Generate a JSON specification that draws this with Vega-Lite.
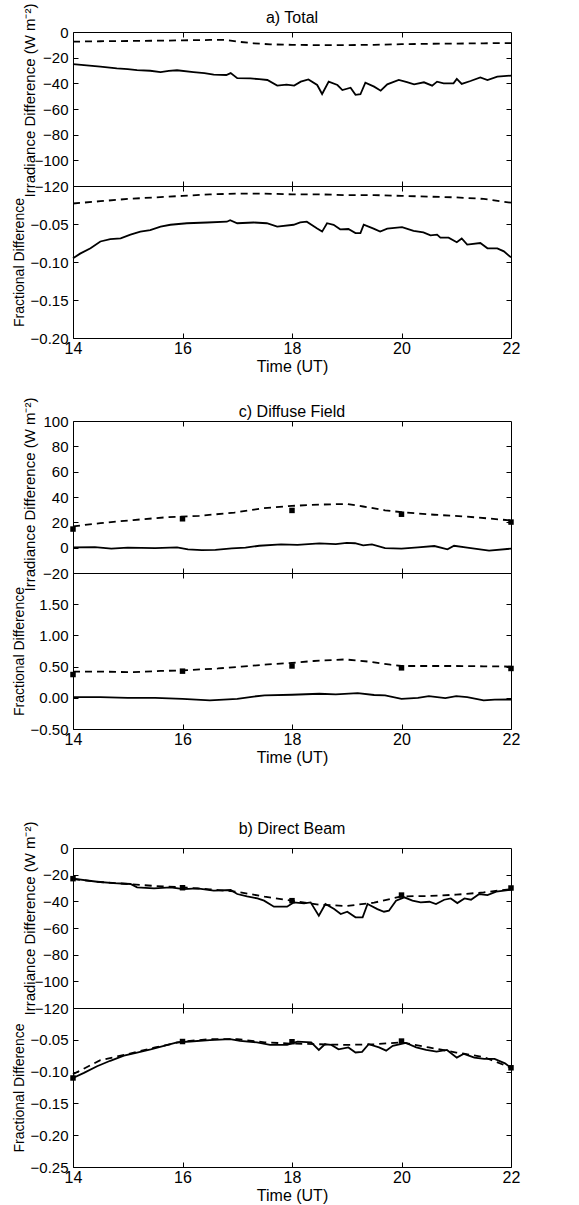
{
  "$schema": "https://vega.github.io/schema/vega-lite/v6.json",
  "background": "white",
  "padding": {"left": 11, "top": 2, "right": 5, "bottom": 0},
  "spacing": 21,
  "config": {
    "view": {"stroke": "black", "strokeWidth": 1},
    "font": "Liberation Sans",
    "axis": {"labelFont": "Liberation Sans", "labelFontSize": 15, "labelColor": "black", "titleFont": "Liberation Sans", "titleFontSize": 15, "titleFontWeight": "normal", "titleColor": "black", "domain": false, "grid": false, "ticks": true, "tickColor": "black", "tickSize": -5, "labelPadding": 7, "labelOverlap": false, "labelFlush": false},
    "axisLeft": {"labelPadding": 10},
    "axisBottom": {"labelFontSize": 16},
    "title": {"font": "Liberation Sans", "fontSize": 16, "fontWeight": "normal", "color": "black", "offset": 6, "frame": "group"}
  },
  "datasets": {
    "a_irr": [
      {"t":14.0,"v":-25.0,"s":"s"},{"t":14.25,"v":-26.0,"s":"s"},{"t":14.5,"v":-27.0,"s":"s"},{"t":14.8,"v":-28.4,"s":"s"},{"t":15.0,"v":-29.0,"s":"s"},{"t":15.17,"v":-29.7,"s":"s"},{"t":15.41,"v":-30.2,"s":"s"},{"t":15.6,"v":-31.3,"s":"s"},{"t":15.75,"v":-30.3,"s":"s"},{"t":15.9,"v":-29.8,"s":"s"},{"t":16.2,"v":-31.2,"s":"s"},{"t":16.4,"v":-32.0,"s":"s"},{"t":16.57,"v":-33.2,"s":"s"},{"t":16.8,"v":-33.5,"s":"s"},{"t":16.88,"v":-32.0,"s":"s"},{"t":17.0,"v":-36.0,"s":"s"},{"t":17.24,"v":-36.2,"s":"s"},{"t":17.4,"v":-36.8,"s":"s"},{"t":17.55,"v":-37.4,"s":"s"},{"t":17.73,"v":-41.8,"s":"s"},{"t":17.9,"v":-41.0,"s":"s"},{"t":18.04,"v":-41.8,"s":"s"},{"t":18.16,"v":-38.7,"s":"s"},{"t":18.3,"v":-37.0,"s":"s"},{"t":18.46,"v":-41.3,"s":"s"},{"t":18.55,"v":-48.3,"s":"s"},{"t":18.67,"v":-38.7,"s":"s"},{"t":18.83,"v":-41.3,"s":"s"},{"t":18.92,"v":-45.2,"s":"s"},{"t":19.07,"v":-43.4,"s":"s"},{"t":19.16,"v":-49.0,"s":"s"},{"t":19.25,"v":-48.5,"s":"s"},{"t":19.34,"v":-39.5,"s":"s"},{"t":19.5,"v":-42.6,"s":"s"},{"t":19.62,"v":-45.7,"s":"s"},{"t":19.74,"v":-40.8,"s":"s"},{"t":19.95,"v":-37.4,"s":"s"},{"t":20.1,"v":-39.0,"s":"s"},{"t":20.23,"v":-40.8,"s":"s"},{"t":20.41,"v":-39.2,"s":"s"},{"t":20.56,"v":-41.8,"s":"s"},{"t":20.65,"v":-38.7,"s":"s"},{"t":20.77,"v":-40.0,"s":"s"},{"t":20.95,"v":-40.0,"s":"s"},{"t":21.01,"v":-36.6,"s":"s"},{"t":21.1,"v":-40.5,"s":"s"},{"t":21.26,"v":-38.2,"s":"s"},{"t":21.44,"v":-35.4,"s":"s"},{"t":21.57,"v":-37.4,"s":"s"},{"t":21.75,"v":-34.8,"s":"s"},{"t":22.0,"v":-34.0,"s":"s"},
      {"t":14.0,"v":-7.5,"s":"d"},{"t":14.5,"v":-7.2,"s":"d"},{"t":15.0,"v":-7.0,"s":"d"},{"t":15.5,"v":-6.8,"s":"d"},{"t":16.0,"v":-6.5,"s":"d"},{"t":16.5,"v":-6.2,"s":"d"},{"t":16.8,"v":-6.2,"s":"d"},{"t":17.0,"v":-7.5,"s":"d"},{"t":17.3,"v":-8.8,"s":"d"},{"t":17.6,"v":-9.6,"s":"d"},{"t":18.0,"v":-10.0,"s":"d"},{"t":18.5,"v":-10.2,"s":"d"},{"t":19.0,"v":-10.2,"s":"d"},{"t":19.5,"v":-10.0,"s":"d"},{"t":20.0,"v":-9.5,"s":"d"},{"t":20.5,"v":-9.2,"s":"d"},{"t":21.0,"v":-9.0,"s":"d"},{"t":21.5,"v":-8.8,"s":"d"},{"t":22.0,"v":-8.6,"s":"d"}
    ],
    "a_frac": [
      {"t":14.0,"v":-0.095,"s":"s"},{"t":14.13,"v":-0.089,"s":"s"},{"t":14.32,"v":-0.082,"s":"s"},{"t":14.5,"v":-0.073,"s":"s"},{"t":14.68,"v":-0.070,"s":"s"},{"t":14.87,"v":-0.069,"s":"s"},{"t":15.05,"v":-0.064,"s":"s"},{"t":15.23,"v":-0.060,"s":"s"},{"t":15.41,"v":-0.058,"s":"s"},{"t":15.6,"v":-0.0535,"s":"s"},{"t":15.78,"v":-0.051,"s":"s"},{"t":16.08,"v":-0.049,"s":"s"},{"t":16.45,"v":-0.048,"s":"s"},{"t":16.81,"v":-0.047,"s":"s"},{"t":16.87,"v":-0.045,"s":"s"},{"t":17.0,"v":-0.049,"s":"s"},{"t":17.3,"v":-0.048,"s":"s"},{"t":17.54,"v":-0.049,"s":"s"},{"t":17.73,"v":-0.0535,"s":"s"},{"t":18.03,"v":-0.051,"s":"s"},{"t":18.15,"v":-0.048,"s":"s"},{"t":18.27,"v":-0.047,"s":"s"},{"t":18.46,"v":-0.056,"s":"s"},{"t":18.55,"v":-0.060,"s":"s"},{"t":18.64,"v":-0.049,"s":"s"},{"t":18.76,"v":-0.051,"s":"s"},{"t":18.88,"v":-0.057,"s":"s"},{"t":19.03,"v":-0.0566,"s":"s"},{"t":19.16,"v":-0.062,"s":"s"},{"t":19.25,"v":-0.062,"s":"s"},{"t":19.31,"v":-0.051,"s":"s"},{"t":19.49,"v":-0.056,"s":"s"},{"t":19.61,"v":-0.060,"s":"s"},{"t":19.74,"v":-0.056,"s":"s"},{"t":20.01,"v":-0.054,"s":"s"},{"t":20.22,"v":-0.059,"s":"s"},{"t":20.4,"v":-0.061,"s":"s"},{"t":20.53,"v":-0.065,"s":"s"},{"t":20.65,"v":-0.064,"s":"s"},{"t":20.71,"v":-0.068,"s":"s"},{"t":20.86,"v":-0.068,"s":"s"},{"t":21.01,"v":-0.074,"s":"s"},{"t":21.1,"v":-0.069,"s":"s"},{"t":21.2,"v":-0.077,"s":"s"},{"t":21.44,"v":-0.075,"s":"s"},{"t":21.57,"v":-0.082,"s":"s"},{"t":21.75,"v":-0.082,"s":"s"},{"t":21.87,"v":-0.086,"s":"s"},{"t":22.0,"v":-0.094,"s":"s"},
      {"t":14.0,"v":-0.023,"s":"d"},{"t":14.5,"v":-0.020,"s":"d"},{"t":15.0,"v":-0.017,"s":"d"},{"t":15.5,"v":-0.015,"s":"d"},{"t":16.0,"v":-0.013,"s":"d"},{"t":16.5,"v":-0.011,"s":"d"},{"t":17.0,"v":-0.010,"s":"d"},{"t":17.5,"v":-0.010,"s":"d"},{"t":18.0,"v":-0.011,"s":"d"},{"t":18.5,"v":-0.011,"s":"d"},{"t":19.0,"v":-0.012,"s":"d"},{"t":19.5,"v":-0.012,"s":"d"},{"t":20.0,"v":-0.013,"s":"d"},{"t":20.5,"v":-0.014,"s":"d"},{"t":21.0,"v":-0.015,"s":"d"},{"t":21.5,"v":-0.017,"s":"d"},{"t":22.0,"v":-0.022,"s":"d"}
    ],
    "c_irr": [
      {"t":14.0,"v":0.3,"s":"s"},{"t":14.4,"v":0.5,"s":"s"},{"t":14.7,"v":-0.8,"s":"s"},{"t":15.0,"v":0.0,"s":"s"},{"t":15.5,"v":-0.3,"s":"s"},{"t":15.9,"v":0.3,"s":"s"},{"t":16.1,"v":-1.3,"s":"s"},{"t":16.35,"v":-2.0,"s":"s"},{"t":16.6,"v":-1.8,"s":"s"},{"t":16.9,"v":-0.5,"s":"s"},{"t":17.15,"v":0.0,"s":"s"},{"t":17.4,"v":1.5,"s":"s"},{"t":17.8,"v":2.6,"s":"s"},{"t":18.1,"v":2.2,"s":"s"},{"t":18.5,"v":3.4,"s":"s"},{"t":18.8,"v":2.8,"s":"s"},{"t":19.0,"v":3.8,"s":"s"},{"t":19.15,"v":3.5,"s":"s"},{"t":19.3,"v":1.8,"s":"s"},{"t":19.46,"v":2.6,"s":"s"},{"t":19.7,"v":-0.3,"s":"s"},{"t":20.0,"v":-0.8,"s":"s"},{"t":20.3,"v":0.3,"s":"s"},{"t":20.6,"v":1.3,"s":"s"},{"t":20.84,"v":-1.3,"s":"s"},{"t":20.96,"v":1.5,"s":"s"},{"t":21.2,"v":0.0,"s":"s"},{"t":21.6,"v":-2.4,"s":"s"},{"t":22.0,"v":-0.8,"s":"s"},
      {"t":14.0,"v":16.8,"s":"d"},{"t":14.5,"v":19.4,"s":"d"},{"t":15.1,"v":21.8,"s":"d"},{"t":15.7,"v":24.0,"s":"d"},{"t":16.3,"v":25.1,"s":"d"},{"t":16.95,"v":27.7,"s":"d"},{"t":17.45,"v":31.0,"s":"d"},{"t":18.0,"v":33.0,"s":"d"},{"t":18.5,"v":34.0,"s":"d"},{"t":19.0,"v":34.5,"s":"d"},{"t":19.3,"v":32.5,"s":"d"},{"t":19.7,"v":29.5,"s":"d"},{"t":20.0,"v":28.0,"s":"d"},{"t":20.6,"v":26.0,"s":"d"},{"t":21.2,"v":24.5,"s":"d"},{"t":22.0,"v":21.5,"s":"d"},
      {"t":14.0,"v":14.7,"s":"m"},{"t":16.0,"v":22.8,"s":"m"},{"t":18.0,"v":29.4,"s":"m"},{"t":20.0,"v":26.4,"s":"m"},{"t":22.0,"v":20.2,"s":"m"}
    ],
    "c_frac": [
      {"t":14.0,"v":0.01,"s":"s"},{"t":14.5,"v":0.01,"s":"s"},{"t":15.0,"v":0.0,"s":"s"},{"t":15.5,"v":0.0,"s":"s"},{"t":16.0,"v":-0.016,"s":"s"},{"t":16.5,"v":-0.04,"s":"s"},{"t":17.0,"v":-0.016,"s":"s"},{"t":17.3,"v":0.02,"s":"s"},{"t":17.5,"v":0.038,"s":"s"},{"t":18.0,"v":0.049,"s":"s"},{"t":18.5,"v":0.065,"s":"s"},{"t":18.8,"v":0.055,"s":"s"},{"t":19.2,"v":0.076,"s":"s"},{"t":19.5,"v":0.045,"s":"s"},{"t":19.7,"v":0.04,"s":"s"},{"t":20.0,"v":-0.016,"s":"s"},{"t":20.3,"v":0.0,"s":"s"},{"t":20.5,"v":0.027,"s":"s"},{"t":20.8,"v":-0.005,"s":"s"},{"t":21.0,"v":0.027,"s":"s"},{"t":21.2,"v":0.01,"s":"s"},{"t":21.5,"v":-0.04,"s":"s"},{"t":21.7,"v":-0.03,"s":"s"},{"t":22.0,"v":-0.027,"s":"s"},
      {"t":14.0,"v":0.42,"s":"d"},{"t":14.5,"v":0.42,"s":"d"},{"t":15.1,"v":0.41,"s":"d"},{"t":15.6,"v":0.43,"s":"d"},{"t":16.0,"v":0.44,"s":"d"},{"t":16.65,"v":0.47,"s":"d"},{"t":17.07,"v":0.50,"s":"d"},{"t":17.56,"v":0.535,"s":"d"},{"t":18.0,"v":0.56,"s":"d"},{"t":18.4,"v":0.59,"s":"d"},{"t":18.97,"v":0.615,"s":"d"},{"t":19.4,"v":0.58,"s":"d"},{"t":19.8,"v":0.53,"s":"d"},{"t":20.0,"v":0.51,"s":"d"},{"t":20.5,"v":0.51,"s":"d"},{"t":21.0,"v":0.51,"s":"d"},{"t":21.5,"v":0.505,"s":"d"},{"t":22.0,"v":0.50,"s":"d"},
      {"t":14.0,"v":0.373,"s":"m"},{"t":16.0,"v":0.427,"s":"m"},{"t":18.0,"v":0.51,"s":"m"},{"t":20.0,"v":0.48,"s":"m"},{"t":22.0,"v":0.47,"s":"m"}
    ],
    "b_irr": [
      {"t":14.0,"v":-23.0,"s":"s"},{"t":14.44,"v":-25.3,"s":"s"},{"t":14.74,"v":-26.3,"s":"s"},{"t":15.05,"v":-27.0,"s":"s"},{"t":15.17,"v":-29.5,"s":"s"},{"t":15.48,"v":-30.3,"s":"s"},{"t":15.78,"v":-29.5,"s":"s"},{"t":16.02,"v":-30.8,"s":"s"},{"t":16.27,"v":-30.3,"s":"s"},{"t":16.57,"v":-32.0,"s":"s"},{"t":16.88,"v":-31.5,"s":"s"},{"t":17.0,"v":-34.5,"s":"s"},{"t":17.18,"v":-36.3,"s":"s"},{"t":17.37,"v":-37.8,"s":"s"},{"t":17.49,"v":-39.5,"s":"s"},{"t":17.67,"v":-44.0,"s":"s"},{"t":17.91,"v":-44.0,"s":"s"},{"t":18.03,"v":-40.8,"s":"s"},{"t":18.22,"v":-41.5,"s":"s"},{"t":18.34,"v":-40.8,"s":"s"},{"t":18.49,"v":-50.8,"s":"s"},{"t":18.61,"v":-42.0,"s":"s"},{"t":18.77,"v":-45.8,"s":"s"},{"t":18.89,"v":-49.5,"s":"s"},{"t":19.01,"v":-47.8,"s":"s"},{"t":19.16,"v":-52.0,"s":"s"},{"t":19.29,"v":-52.0,"s":"s"},{"t":19.38,"v":-42.0,"s":"s"},{"t":19.56,"v":-45.8,"s":"s"},{"t":19.68,"v":-47.8,"s":"s"},{"t":19.77,"v":-47.0,"s":"s"},{"t":19.9,"v":-39.5,"s":"s"},{"t":20.05,"v":-37.0,"s":"s"},{"t":20.2,"v":-39.5,"s":"s"},{"t":20.35,"v":-40.8,"s":"s"},{"t":20.51,"v":-40.3,"s":"s"},{"t":20.63,"v":-42.0,"s":"s"},{"t":20.78,"v":-38.8,"s":"s"},{"t":20.9,"v":-37.8,"s":"s"},{"t":21.02,"v":-41.3,"s":"s"},{"t":21.15,"v":-37.8,"s":"s"},{"t":21.27,"v":-38.8,"s":"s"},{"t":21.42,"v":-34.5,"s":"s"},{"t":21.57,"v":-35.3,"s":"s"},{"t":21.73,"v":-32.8,"s":"s"},{"t":22.0,"v":-31.3,"s":"s"},
      {"t":14.0,"v":-23.3,"s":"d"},{"t":14.5,"v":-25.5,"s":"d"},{"t":15.0,"v":-27.0,"s":"d"},{"t":15.5,"v":-28.5,"s":"d"},{"t":16.0,"v":-29.5,"s":"d"},{"t":16.5,"v":-31.0,"s":"d"},{"t":17.0,"v":-32.8,"s":"d"},{"t":17.5,"v":-36.5,"s":"d"},{"t":18.0,"v":-39.5,"s":"d"},{"t":18.5,"v":-42.5,"s":"d"},{"t":19.0,"v":-43.5,"s":"d"},{"t":19.5,"v":-41.0,"s":"d"},{"t":20.0,"v":-36.3,"s":"d"},{"t":20.5,"v":-36.0,"s":"d"},{"t":21.0,"v":-35.0,"s":"d"},{"t":21.5,"v":-33.3,"s":"d"},{"t":22.0,"v":-30.8,"s":"d"},
      {"t":14.0,"v":-23.0,"s":"m"},{"t":16.0,"v":-29.8,"s":"m"},{"t":18.0,"v":-39.5,"s":"m"},{"t":20.0,"v":-35.3,"s":"m"},{"t":22.0,"v":-30.0,"s":"m"}
    ],
    "b_frac": [
      {"t":14.0,"v":-0.11,"s":"s"},{"t":14.2,"v":-0.102,"s":"s"},{"t":14.44,"v":-0.0915,"s":"s"},{"t":14.68,"v":-0.083,"s":"s"},{"t":14.93,"v":-0.075,"s":"s"},{"t":15.17,"v":-0.070,"s":"s"},{"t":15.42,"v":-0.065,"s":"s"},{"t":15.66,"v":-0.0595,"s":"s"},{"t":15.9,"v":-0.054,"s":"s"},{"t":16.14,"v":-0.0527,"s":"s"},{"t":16.5,"v":-0.0505,"s":"s"},{"t":16.87,"v":-0.049,"s":"s"},{"t":17.05,"v":-0.0516,"s":"s"},{"t":17.36,"v":-0.054,"s":"s"},{"t":17.6,"v":-0.058,"s":"s"},{"t":17.91,"v":-0.058,"s":"s"},{"t":18.1,"v":-0.053,"s":"s"},{"t":18.35,"v":-0.054,"s":"s"},{"t":18.49,"v":-0.066,"s":"s"},{"t":18.6,"v":-0.057,"s":"s"},{"t":18.72,"v":-0.058,"s":"s"},{"t":18.85,"v":-0.065,"s":"s"},{"t":19.03,"v":-0.062,"s":"s"},{"t":19.16,"v":-0.070,"s":"s"},{"t":19.28,"v":-0.069,"s":"s"},{"t":19.4,"v":-0.057,"s":"s"},{"t":19.59,"v":-0.062,"s":"s"},{"t":19.72,"v":-0.067,"s":"s"},{"t":19.84,"v":-0.0595,"s":"s"},{"t":20.08,"v":-0.055,"s":"s"},{"t":20.27,"v":-0.062,"s":"s"},{"t":20.45,"v":-0.066,"s":"s"},{"t":20.64,"v":-0.0685,"s":"s"},{"t":20.83,"v":-0.066,"s":"s"},{"t":21.01,"v":-0.078,"s":"s"},{"t":21.14,"v":-0.072,"s":"s"},{"t":21.33,"v":-0.078,"s":"s"},{"t":21.51,"v":-0.080,"s":"s"},{"t":21.7,"v":-0.080,"s":"s"},{"t":21.89,"v":-0.087,"s":"s"},{"t":22.0,"v":-0.094,"s":"s"},
      {"t":14.0,"v":-0.104,"s":"d"},{"t":14.5,"v":-0.082,"s":"d"},{"t":15.0,"v":-0.0725,"s":"d"},{"t":15.5,"v":-0.062,"s":"d"},{"t":16.0,"v":-0.0527,"s":"d"},{"t":16.5,"v":-0.049,"s":"d"},{"t":17.0,"v":-0.049,"s":"d"},{"t":17.5,"v":-0.054,"s":"d"},{"t":18.0,"v":-0.056,"s":"d"},{"t":18.5,"v":-0.057,"s":"d"},{"t":19.0,"v":-0.058,"s":"d"},{"t":19.5,"v":-0.057,"s":"d"},{"t":20.0,"v":-0.054,"s":"d"},{"t":20.5,"v":-0.062,"s":"d"},{"t":21.0,"v":-0.070,"s":"d"},{"t":21.5,"v":-0.077,"s":"d"},{"t":22.0,"v":-0.094,"s":"d"},
      {"t":14.0,"v":-0.11,"s":"m"},{"t":16.0,"v":-0.0527,"s":"m"},{"t":18.0,"v":-0.053,"s":"m"},{"t":20.0,"v":-0.052,"s":"m"},{"t":22.0,"v":-0.094,"s":"m"}
    ]
  },
  "vconcat": [
    {"spacing": 0, "bounds": "flush", "vconcat": [
      {"width": 438, "height": 154, "title": {"text": "a) Total", "offset": -23}, "data": {"name": "a_irr"},
       "resolve": {"axis": {"x": "independent", "y": "independent"}},
       "layer": [
        {"transform": [{"filter": "datum.s == 's'"}], "mark": {"type": "line", "color": "black", "strokeWidth": 1.8},
         "encoding": {"x": {"field": "t", "type": "quantitative", "scale": {"domain": [14, 22], "nice": false}, "axis": {"orient": "bottom", "values": [16, 18, 20], "labels": false, "title": null}},
                      "y": {"field": "v", "type": "quantitative", "scale": {"domain": [-120, 0], "nice": false}, "axis": {"orient": "left", "values": [0, -20, -40, -60, -80, -100, -120], "format": "d", "title": "Irradiance Difference (W m⁻²)", "titleX": -36, "titleY": 68}}}},
        {"transform": [{"filter": "datum.s == 'd'"}], "mark": {"type": "line", "color": "black", "strokeWidth": 1.8, "strokeDash": [7, 5]},
         "encoding": {"x": {"field": "t", "type": "quantitative", "scale": {"domain": [14, 22], "nice": false}, "axis": {"orient": "top", "values": [16, 18, 20], "labels": false, "title": null}},
                      "y": {"field": "v", "type": "quantitative", "scale": {"domain": [-120, 0], "nice": false}, "axis": {"orient": "right", "values": [-20, -40, -60, -80, -100], "labels": false, "title": null}}}}
       ]},
      {"width": 438, "height": 152, "data": {"name": "a_frac"},
       "resolve": {"axis": {"x": "independent", "y": "independent"}},
       "layer": [
        {"transform": [{"filter": "datum.s == 's'"}], "mark": {"type": "line", "color": "black", "strokeWidth": 1.8},
         "encoding": {"x": {"field": "t", "type": "quantitative", "scale": {"domain": [14, 22], "nice": false}, "axis": {"orient": "bottom", "values": [14, 16, 18, 20, 22], "title": "Time (UT)", "titleFontSize": 16, "titlePadding": 2}},
                      "y": {"field": "v", "type": "quantitative", "scale": {"domain": [-0.2, 0], "nice": false}, "axis": {"orient": "left", "values": [-0.05, -0.1, -0.15, -0.2], "format": ".2f", "title": "Fractional Difference", "titleFontSize": 14, "titleX": -47}}}},
        {"transform": [{"filter": "datum.s == 'd'"}], "mark": {"type": "line", "color": "black", "strokeWidth": 1.8, "strokeDash": [7, 5]},
         "encoding": {"x": {"field": "t", "type": "quantitative", "scale": {"domain": [14, 22], "nice": false}, "axis": {"orient": "top", "values": [16, 18, 20], "labels": false, "title": null}},
                      "y": {"field": "v", "type": "quantitative", "scale": {"domain": [-0.2, 0], "nice": false}, "axis": {"orient": "right", "values": [-0.05, -0.1, -0.15], "labels": false, "title": null}}}}
       ]}
    ]},
    {"spacing": 0, "bounds": "flush", "vconcat": [
      {"width": 438, "height": 152, "title": {"text": "c) Diffuse Field", "offset": -23}, "data": {"name": "c_irr"},
       "resolve": {"axis": {"x": "independent", "y": "independent"}},
       "layer": [
        {"transform": [{"filter": "datum.s == 's'"}], "mark": {"type": "line", "color": "black", "strokeWidth": 1.8},
         "encoding": {"x": {"field": "t", "type": "quantitative", "scale": {"domain": [14, 22], "nice": false}, "axis": {"orient": "bottom", "values": [16, 18, 20], "labels": false, "title": null}},
                      "y": {"field": "v", "type": "quantitative", "scale": {"domain": [-20, 100], "nice": false}, "axis": {"orient": "left", "values": [100, 80, 60, 40, 20, 0, -20], "format": "d", "title": "Irradiance Difference (W m⁻²)", "titleX": -36, "titleY": 73}}}},
        {"transform": [{"filter": "datum.s == 'd'"}], "mark": {"type": "line", "color": "black", "strokeWidth": 1.8, "strokeDash": [7, 5]},
         "encoding": {"x": {"field": "t", "type": "quantitative", "scale": {"domain": [14, 22], "nice": false}, "axis": {"orient": "top", "values": [16, 18, 20], "labels": false, "title": null}},
                      "y": {"field": "v", "type": "quantitative", "scale": {"domain": [-20, 100], "nice": false}, "axis": {"orient": "right", "values": [80, 60, 40, 20, 0], "labels": false, "title": null}}}},
        {"transform": [{"filter": "datum.s == 'm'"}], "mark": {"type": "point", "shape": "square", "filled": true, "color": "black", "size": 30, "opacity": 1},
         "encoding": {"x": {"field": "t", "type": "quantitative", "axis": null}, "y": {"field": "v", "type": "quantitative", "axis": null}}}
       ]},
      {"width": 438, "height": 156, "data": {"name": "c_frac"},
       "resolve": {"axis": {"x": "independent", "y": "independent"}},
       "layer": [
        {"transform": [{"filter": "datum.s == 's'"}], "mark": {"type": "line", "color": "black", "strokeWidth": 1.8},
         "encoding": {"x": {"field": "t", "type": "quantitative", "scale": {"domain": [14, 22], "nice": false}, "axis": {"orient": "bottom", "values": [14, 16, 18, 20, 22], "title": "Time (UT)", "titleFontSize": 16, "titlePadding": 2}},
                      "y": {"field": "v", "type": "quantitative", "scale": {"domain": [-0.5, 2.0], "nice": false}, "axis": {"orient": "left", "values": [1.5, 1.0, 0.5, 0.0, -0.5], "format": ".2f", "title": "Fractional Difference", "titleFontSize": 14, "titleX": -47}}}},
        {"transform": [{"filter": "datum.s == 'd'"}], "mark": {"type": "line", "color": "black", "strokeWidth": 1.8, "strokeDash": [7, 5]},
         "encoding": {"x": {"field": "t", "type": "quantitative", "scale": {"domain": [14, 22], "nice": false}, "axis": {"orient": "top", "values": [16, 18, 20], "labels": false, "title": null}},
                      "y": {"field": "v", "type": "quantitative", "scale": {"domain": [-0.5, 2.0], "nice": false}, "axis": {"orient": "right", "values": [1.5, 1.0, 0.5, 0.0], "labels": false, "title": null}}}},
        {"transform": [{"filter": "datum.s == 'm'"}], "mark": {"type": "point", "shape": "square", "filled": true, "color": "black", "size": 30, "opacity": 1},
         "encoding": {"x": {"field": "t", "type": "quantitative", "axis": null}, "y": {"field": "v", "type": "quantitative", "axis": null}}}
       ]}
    ]},
    {"width": 438, "height": 12, "data": {"values": []}, "mark": {"type": "point"}, "view": {"stroke": null}},
    {"spacing": 0, "bounds": "flush", "vconcat": [
      {"width": 438, "height": 160, "title": {"text": "b) Direct Beam", "offset": -16}, "data": {"name": "b_irr"},
       "resolve": {"axis": {"x": "independent", "y": "independent"}},
       "layer": [
        {"transform": [{"filter": "datum.s == 's'"}], "mark": {"type": "line", "color": "black", "strokeWidth": 1.8},
         "encoding": {"x": {"field": "t", "type": "quantitative", "scale": {"domain": [14, 22], "nice": false}, "axis": {"orient": "bottom", "values": [16, 18, 20], "labels": false, "title": null}},
                      "y": {"field": "v", "type": "quantitative", "scale": {"domain": [-120, 0], "nice": false}, "axis": {"orient": "left", "values": [0, -20, -40, -60, -80, -100, -120], "format": "d", "title": "Irradiance Difference (W m⁻²)", "titleX": -36, "titleY": 70}}}},
        {"transform": [{"filter": "datum.s == 'd'"}], "mark": {"type": "line", "color": "black", "strokeWidth": 1.8, "strokeDash": [7, 5]},
         "encoding": {"x": {"field": "t", "type": "quantitative", "scale": {"domain": [14, 22], "nice": false}, "axis": {"orient": "top", "values": [16, 18, 20], "labels": false, "title": null}},
                      "y": {"field": "v", "type": "quantitative", "scale": {"domain": [-120, 0], "nice": false}, "axis": {"orient": "right", "values": [-20, -40, -60, -80, -100], "labels": false, "title": null}}}},
        {"transform": [{"filter": "datum.s == 'm'"}], "mark": {"type": "point", "shape": "square", "filled": true, "color": "black", "size": 30, "opacity": 1},
         "encoding": {"x": {"field": "t", "type": "quantitative", "axis": null}, "y": {"field": "v", "type": "quantitative", "axis": null}}}
       ]},
      {"width": 438, "height": 159, "data": {"name": "b_frac"},
       "resolve": {"axis": {"x": "independent", "y": "independent"}},
       "layer": [
        {"transform": [{"filter": "datum.s == 's'"}], "mark": {"type": "line", "color": "black", "strokeWidth": 1.8},
         "encoding": {"x": {"field": "t", "type": "quantitative", "scale": {"domain": [14, 22], "nice": false}, "axis": {"orient": "bottom", "values": [14, 16, 18, 20, 22], "title": "Time (UT)", "titleFontSize": 16, "titlePadding": 2}},
                      "y": {"field": "v", "type": "quantitative", "scale": {"domain": [-0.25, 0], "nice": false}, "axis": {"orient": "left", "values": [-0.05, -0.1, -0.15, -0.2, -0.25], "format": ".2f", "title": "Fractional Difference", "titleFontSize": 14, "titleX": -47}}}},
        {"transform": [{"filter": "datum.s == 'd'"}], "mark": {"type": "line", "color": "black", "strokeWidth": 1.8, "strokeDash": [7, 5]},
         "encoding": {"x": {"field": "t", "type": "quantitative", "scale": {"domain": [14, 22], "nice": false}, "axis": {"orient": "top", "values": [16, 18, 20], "labels": false, "title": null}},
                      "y": {"field": "v", "type": "quantitative", "scale": {"domain": [-0.25, 0], "nice": false}, "axis": {"orient": "right", "values": [-0.05, -0.1, -0.15, -0.2], "labels": false, "title": null}}}},
        {"transform": [{"filter": "datum.s == 'm'"}], "mark": {"type": "point", "shape": "square", "filled": true, "color": "black", "size": 30, "opacity": 1},
         "encoding": {"x": {"field": "t", "type": "quantitative", "axis": null}, "y": {"field": "v", "type": "quantitative", "axis": null}}}
       ]}
    ]}
  ]
}
